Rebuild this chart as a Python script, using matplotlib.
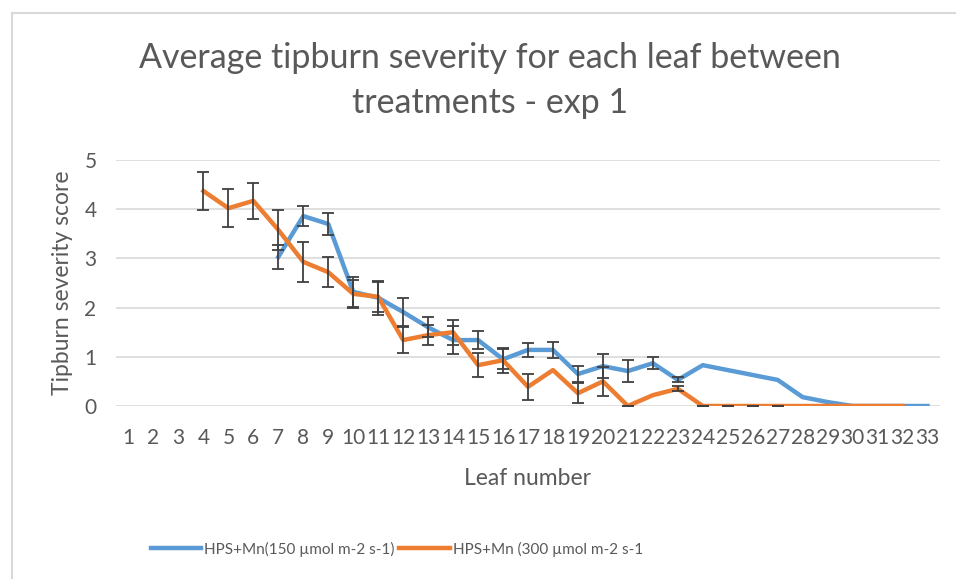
import numpy as np
import matplotlib.pyplot as plt
from matplotlib.patches import Rectangle

plt.rcParams['font.family'] = ['Lato', 'DejaVu Sans']

leaves = list(range(1, 34))
nan = np.nan

# HPS+Mn 150 µmol m-2 s-1 (blue)
low_mean = [nan, nan, nan, nan, nan, nan, 3.03, 3.86, 3.70, 2.32, 2.20,
            1.91, 1.60, 1.34, 1.34, 0.95, 1.14, 1.14, 0.65, 0.81, 0.71,
            0.87, 0.53, 0.83, 0.73, 0.63, 0.53, 0.18, 0.08, 0.0, 0.0, 0.0, 0.0]
low_err = [nan, nan, nan, nan, nan, nan, 0.25, 0.20, 0.22, 0.30, 0.35,
           0.28, 0.20, 0.28, 0.18, 0.20, 0.15, 0.16, 0.16, 0.24, 0.23,
           0.12, 0.05, nan, nan, nan, nan, nan, nan, nan, nan, nan, nan]

# HPS+Mn 300 µmol m-2 s-1 (orange)
high_mean = [nan, nan, nan, 4.37, 4.02, 4.17, 3.58, 2.93, 2.72, 2.28, 2.22,
             1.34, 1.44, 1.50, 0.83, 0.93, 0.39, 0.73, 0.26, 0.50, 0.0,
             0.22, 0.35, 0.0, 0.0, 0.0, 0.0, 0.0, 0.0, 0.0, 0.0, 0.0, nan]
high_err = [nan, nan, nan, 0.38, 0.39, 0.37, 0.40, 0.41, 0.30, 0.28, 0.30,
            0.26, 0.20, 0.25, 0.25, 0.25, 0.27, nan, 0.20, 0.30, 0.0,
            nan, 0.05, 0.0, 0.0, 0.0, 0.0, nan, nan, nan, nan, nan, nan]

labels = ['HPS+Mn(150 µmol m-2 s-1)', 'HPS+Mn (300 µmol m-2 s-1']
colors = ['#5B9BD5', '#ED7D31']
txt = '#595959'

fig = plt.figure(figsize=(9.56, 5.79), dpi=100)
fig.patches.append(Rectangle((12 / 956, -0.1), 1.2, (579 - 13) / 579 + 0.1,
                             transform=fig.transFigure, fill=False,
                             edgecolor='#D9D9D9', linewidth=1.5))
ax = fig.add_axes([116 / 956, 173 / 579, (940 - 116) / 956, 246 / 579])

x = np.array(leaves)
for mean, err, c, lab in [(low_mean, low_err, colors[0], labels[0]),
                          (high_mean, high_err, colors[1], labels[1])]:
    mean = np.array(mean)
    err = np.array(err)
    ax.plot(x, mean, color=c, linewidth=3.2, label=lab, zorder=3,
            solid_joinstyle='round')
    m = ~np.isnan(err)
    ax.errorbar(x[m], mean[m], yerr=err[m], fmt='none', ecolor='#404040',
                elinewidth=1.3, capsize=4.5, capthick=1.3, zorder=4)

ax.set_xlim(0.5, 33.5)
ax.set_ylim(0, 5)
ax.set_xticks(leaves)
ax.set_xticklabels([str(v) for v in leaves])
ax.set_yticks(range(6))
ax.grid(axis='y', color='#D9D9D9', linewidth=1.2)
ax.set_axisbelow(True)
for s in ax.spines.values():
    s.set_visible(False)
ax.tick_params(length=0, labelsize=15, labelcolor=txt)
ax.tick_params(axis='x', pad=16)
ax.tick_params(axis='y', pad=14)

ax.set_xlabel('Leaf number', fontsize=16.5, color=txt, labelpad=14)
ax.set_ylabel('Tipburn severity score', fontsize=16.5, color=txt, labelpad=8)

fig.text(490 / 956, 1 - 58 / 579, 'Average tipburn severity for each leaf between',
         ha='center', va='center', fontsize=24.5, color=txt)
fig.text(490 / 956, 1 - 103 / 579, 'treatments - exp 1',
         ha='center', va='center', fontsize=24.5, color=txt)

fig.legend(loc='center', bbox_to_anchor=(397 / 956, 1 - 549 / 579), ncol=2,
           frameon=False, fontsize=11, labelcolor=txt, handlelength=3.3,
           handletextpad=0.2, columnspacing=0.3)

fig.savefig('out.png', dpi=100)
